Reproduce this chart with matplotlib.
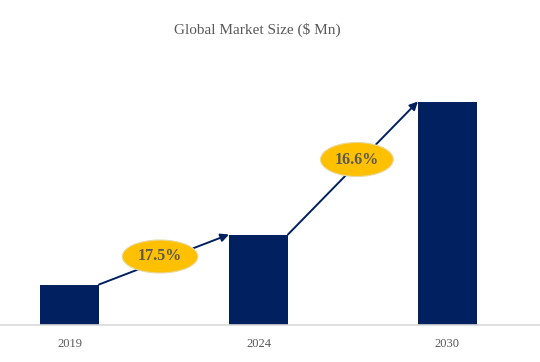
import matplotlib.pyplot as plt
from matplotlib.patches import Ellipse

years = ['2019', '2024', '2030']
market_size = [40, 90, 223]
cagr_labels = ['17.5%', '16.6%']

navy = '#002060'
gold = '#FFC000'
grey = '#595959'

plt.rcParams['font.family'] = ['Liberation Serif', 'DejaVu Serif']

fig = plt.figure(figsize=(5.4, 3.62), dpi=100)
ax = fig.add_axes([0, 37.5 / 362, 1, 264 / 362])

x = list(range(len(years)))
w = 0.312
ax.bar(x, market_size, width=w, color=navy, zorder=2)

ax.set_xlim(-0.368, 2.49)
ax.set_ylim(0, 264)
ax.set_xticks(x)
ax.set_xticklabels(years, color=grey, fontsize=9)
ax.tick_params(axis='x', length=0, pad=10)
ax.set_yticks([])
for s in ['top', 'right', 'left']:
    ax.spines[s].set_visible(False)
ax.spines['bottom'].set_color('#d9d9d9')
ax.spines['bottom'].set_linewidth(1.2)

# growth arrows between bar tops
for i in range(len(years) - 1):
    ax.annotate('', xy=(x[i + 1] - w / 2, market_size[i + 1]),
                xytext=(x[i] + w / 2, market_size[i]),
                arrowprops=dict(arrowstyle='-|>', color=navy, lw=1.4,
                                mutation_scale=12, shrinkA=0, shrinkB=0),
                zorder=3)

# CAGR ellipses
centers = [(0.479, 68), (1.521, 165)]
sizes = [(0.40, 33), (0.386, 34)]
for (cx, cy), (ew, eh), lab in zip(centers, sizes, cagr_labels):
    ax.add_patch(Ellipse((cx, cy), ew, eh, facecolor=gold,
                         edgecolor='#e8d9a0', lw=0.8, zorder=4))
    ax.text(cx, cy, lab, ha='center', va='center', fontsize=11.5,
            fontweight='bold', color=grey, zorder=5)

fig.text(257 / 540, 1 - 30 / 362, 'Global Market Size ($ Mn)', ha='center',
         va='center', fontsize=11, color=grey)

plt.savefig('out.png')
plt.close()
